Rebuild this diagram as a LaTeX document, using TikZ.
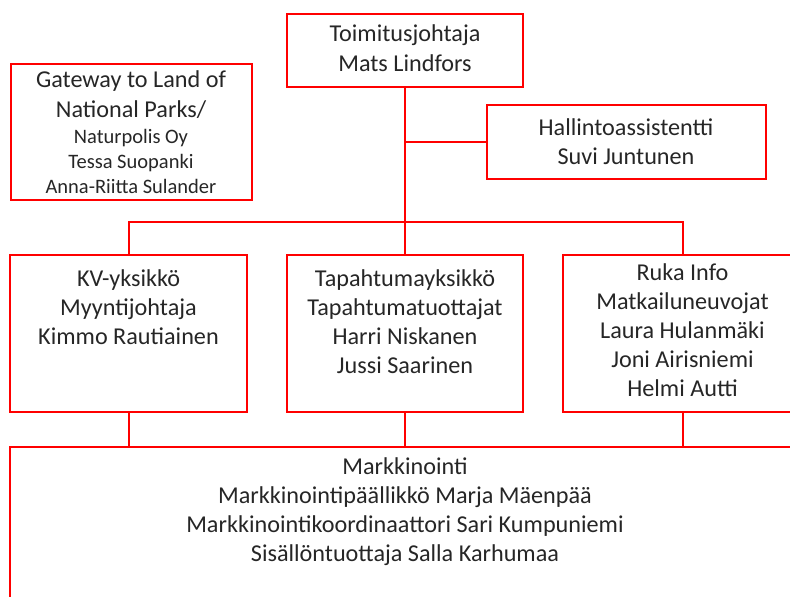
\documentclass[tikz,border=0pt]{standalone}
\usepackage{fontspec}
\setmainfont{Carlito}
\usetikzlibrary{positioning}
\definecolor{boxred}{RGB}{255,0,0}
\definecolor{textgray}{RGB}{38,38,38}
\tikzset{
    orgbox/.style={
        draw=boxred,
        line width=2pt,
        inner sep=0pt
    },
    orgtext/.style={
        text=textgray,
        align=center,
        inner sep=0pt,
        font=\fontsize{24.2}{29}\selectfont
    },
    orgline/.style={
        draw=boxred,
        line width=2pt
    }
}

\begin{document}
\begin{tikzpicture}[x=1pt, y=-1pt]
    \useasboundingbox (0,0) rectangle (790,597);
    \clip (0,0) rectangle (790,597);

    % top row
    \node[orgbox, orgtext, font=\fontsize{24.2}{30}\selectfont, text depth=4pt, minimum width=236pt, minimum height=73pt] (toimi) at (405,50.5) {Toimitusjohtaja\\Mats Lindfors};
    \node[orgbox, orgtext, font=\fontsize{20.5}{25}\selectfont, minimum width=241pt, minimum height=136pt] (gateway) at (131,132)
        {{\fontsize{24.2}{29}\selectfont Gateway to Land of}\\[5pt]{\fontsize{24.2}{29}\selectfont National Parks/}\\[1pt]Naturpolis Oy\\Tessa Suopanki\\Anna-Riitta Sulander};
    \node[orgbox, orgtext, minimum width=279pt, minimum height=74pt] (halli) at (626,142) {Hallintoassistentti\\Suvi Juntunen};

    % units
    \node[orgbox, minimum width=237pt, minimum height=157pt] (kv) at (128.5,333.5) {};
    \node[orgbox, minimum width=236pt, minimum height=157pt] (tapa) at (405,333.5) {};
    \node[orgbox, minimum width=239pt, minimum height=157pt] (ruka) at (682.5,333.5) {};
    \node[orgbox, minimum width=790pt, minimum height=200pt] (markk) at (405,546.5) {};

    \node[orgtext, below=15pt of kv.north] (kvtext) {KV-yksikkö\\Myyntijohtaja\\Kimmo Rautiainen};
    \node[orgtext, below=15pt of tapa.north] (tapatext) {Tapahtumayksikkö\\Tapahtumatuottajat\\Harri Niskanen\\Jussi Saarinen};
    \node[orgtext, below=9pt of ruka.north] (rukatext) {Ruka Info\\Matkailuneuvojat\\Laura Hulanmäki\\Joni Airisniemi\\Helmi Autti};
    \node[orgtext, below=12pt of markk.north] (markktext) {Markkinointi\\Markkinointipäällikkö Marja Mäenpää\\Markkinointikoordinaattori Sari Kumpuniemi\\Sisällöntuottaja Salla Karhumaa};

    % connectors
    \coordinate (hub) at (405,222);
    \draw[orgline] (toimi.south) -- (hub);
    \draw[orgline] (toimi.south |- halli.west) -- (halli.west);
    \draw[orgline] (kv.north) |- (hub) -| (ruka.north);
    \draw[orgline] (hub) -- (tapa.north);
    \draw[orgline] (kv.south) -- (kv.south |- markk.north);
    \draw[orgline] (tapa.south) -- (tapa.south |- markk.north);
    \draw[orgline] (ruka.south) -- (ruka.south |- markk.north);
\end{tikzpicture}
\end{document}
